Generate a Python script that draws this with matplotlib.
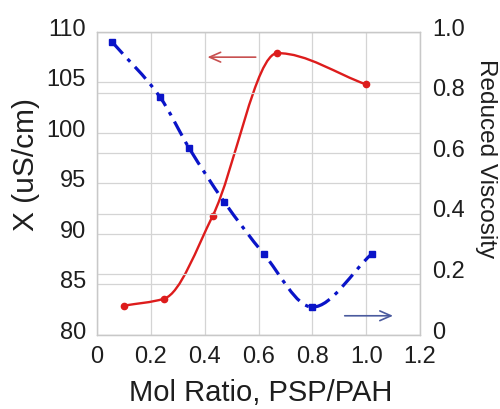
import numpy as np
import matplotlib
matplotlib.use("Agg")
import matplotlib.pyplot as plt
import matplotlib.transforms as mtransforms
from matplotlib.path import Path
from matplotlib.patches import PathPatch

plt.rcParams["font.family"] = ["Liberation Sans", "DejaVu Sans"]

# conductivity (left axis)
cond_x = [0.10, 0.25, 0.43, 0.67, 1.00]
cond_y = [82.9, 83.6, 91.8, 107.9, 104.8]

# reduced viscosity (right axis)
visc_x = [0.056, 0.234, 0.342, 0.472, 0.62, 0.80, 1.02]
visc_y = [0.967, 0.785, 0.617, 0.44, 0.267, 0.092, 0.267]

left_ticks = [80, 85, 90, 95, 100, 105, 110]
right_ticks = [0, 0.2, 0.4, 0.6, 0.8, 1.0]
right_labels = ["0", "0.2", "0.4", "0.6", "0.8", "1.0"]
x_ticks = [0, 0.2, 0.4, 0.6, 0.8, 1.0, 1.2]
x_labels = ["0", "0.2", "0.4", "0.6", "0.8", "1.0", "1.2"]

RED = "#dd1c1c"
BLUE = "#0a14c8"
GRID = "#d4d4d4"
TXT = "#1e1e1e"


def smooth_path(xs, ys):
    """Smoothed line as cubic beziers, monotone tangents (flat at extrema)."""
    x = np.asarray(xs, float)
    y = np.asarray(ys, float)
    n = len(x)
    d = np.diff(y) / np.diff(x)
    m = np.zeros(n)
    m[0], m[-1] = d[0], d[-1]
    for i in range(1, n - 1):
        if d[i - 1] * d[i] <= 0:
            m[i] = 0.0
        else:
            w1 = 2 * (x[i + 1] - x[i]) + (x[i] - x[i - 1])
            w2 = (x[i + 1] - x[i]) + 2 * (x[i] - x[i - 1])
            m[i] = (w1 + w2) / (w1 / d[i - 1] + w2 / d[i])
    verts = [(x[0], y[0])]
    codes = [Path.MOVETO]
    for i in range(n - 1):
        h = x[i + 1] - x[i]
        verts += [(x[i] + h / 3, y[i] + m[i] * h / 3),
                  (x[i + 1] - h / 3, y[i + 1] - m[i + 1] * h / 3),
                  (x[i + 1], y[i + 1])]
        codes += [Path.CURVE4] * 3
    return Path(verts, codes)


W, H = 500, 409
fig = plt.figure(figsize=(W / 100, H / 100), dpi=100)
ax = fig.add_axes([0.194, 0.181, 0.646, 0.741])
ax2 = ax.twinx()

ax.set_xlim(0, 1.2)
ax.set_ylim(80, 110)
ax2.set_ylim(0, 1.0)

ax.set_xticks(x_ticks)
ax.set_xticklabels(x_labels)
ax.set_yticks(left_ticks)
ax2.set_yticks(right_ticks)
ax2.set_yticklabels(right_labels)

ax.grid(True, color=GRID, lw=0.9)
ax2.grid(True, axis="y", color=GRID, lw=0.9)
ax.set_axisbelow(True)
ax2.set_axisbelow(True)

for a in (ax, ax2):
    for s in a.spines.values():
        s.set_color("#c8c8c8")
        s.set_linewidth(0.9)
    a.tick_params(length=0, labelsize=17, colors=TXT)
ax.tick_params(axis="y", pad=8)
ax.tick_params(axis="x", pad=8)
ax2.tick_params(axis="y", pad=9)

# y tick labels sit a little above their gridlines in the original
up = mtransforms.ScaledTranslation(0, 3.5 / 72, fig.dpi_scale_trans)
for lab in ax.get_yticklabels() + ax2.get_yticklabels():
    lab.set_transform(lab.get_transform() + up)

# red conductivity curve
ax.add_patch(PathPatch(smooth_path(cond_x, cond_y), fill=False,
                       edgecolor=RED, lw=1.7, zorder=3))
ax.plot(cond_x, cond_y, "o", color=RED, ms=4.5, zorder=4)

# blue viscosity curve
ax2.add_patch(PathPatch(smooth_path(visc_x, visc_y), fill=False,
                        edgecolor=BLUE, lw=2.3, zorder=3,
                        linestyle=(0, (5, 2.2, 1.2, 2.2))))
ax2.plot(visc_x, visc_y, "s", color=BLUE, ms=5, zorder=4)

# arrows pointing to the axes
ax.annotate("", xy=(0.40, 107.5), xytext=(0.60, 107.5),
            arrowprops=dict(arrowstyle="->,head_length=0.8,head_width=0.35",
                            color="#c85050", lw=1.2))
ax.annotate("", xy=(1.11, 81.9), xytext=(0.91, 81.9),
            arrowprops=dict(arrowstyle="->,head_length=0.8,head_width=0.35",
                            color="#4a5a9e", lw=1.2))

# axis titles placed where the original has them
fig.text(261 / W, 1 - 401 / H, "Mol Ratio, PSP/PAH", fontsize=21, color=TXT,
         ha="center", va="baseline")
fig.text(26 / W, 1 - 164 / H, "X (uS/cm)", fontsize=21.5, color=TXT,
         ha="center", va="center", rotation=90)
fig.text(486 / W, 1 - 159 / H, "Reduced Viscosity", fontsize=17.5, color=TXT,
         ha="center", va="center", rotation=270)

fig.savefig("out.png", dpi=100)
